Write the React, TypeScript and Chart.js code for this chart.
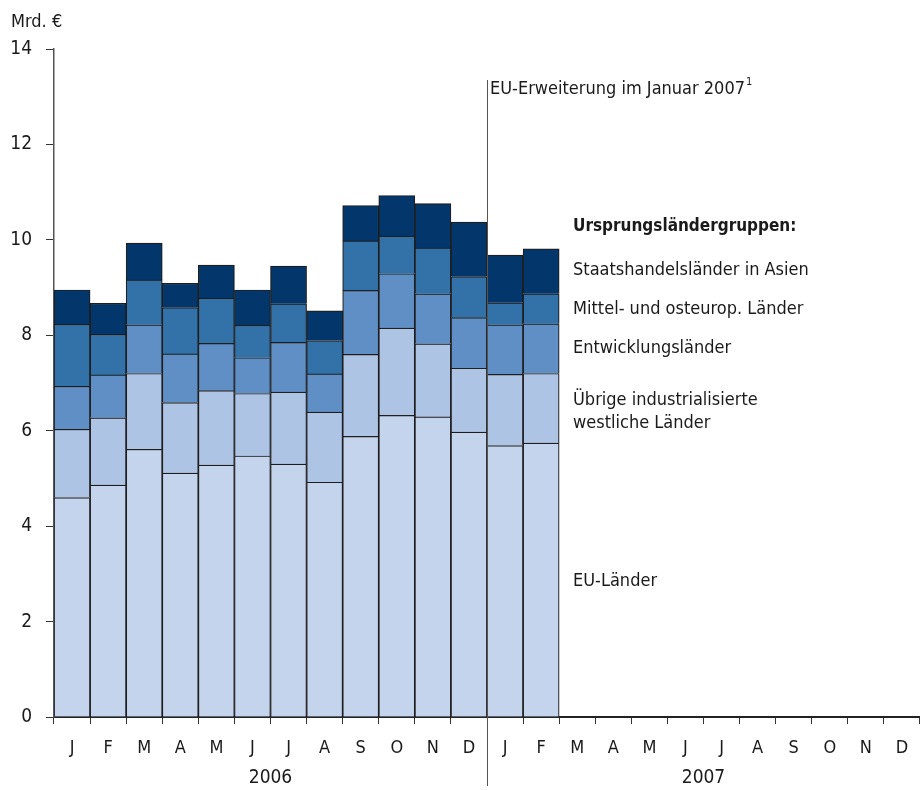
import React, { useEffect, useRef } from "react";
import { Chart, registerables } from "chart.js";

Chart.register(...registerables);

const months = ["J", "F", "M", "A", "M", "J", "J", "A", "S", "O", "N", "D", "J", "F", "M", "A", "M", "J", "J", "A", "S", "O", "N", "D"];
const years = ["2006", "2007"];

const euLaender = [4.6, 4.86, 5.61, 5.11, 5.28, 5.47, 5.3, 4.92, 5.88, 6.32, 6.29, 5.97, 5.69, 5.74];
const uebrigeWestliche = [1.43, 1.41, 1.59, 1.48, 1.56, 1.31, 1.51, 1.47, 1.72, 1.83, 1.53, 1.34, 1.49, 1.46];
const entwicklungslaender = [0.9, 0.9, 1.02, 1.02, 0.99, 0.75, 1.04, 0.8, 1.34, 1.14, 1.05, 1.06, 1.04, 1.04];
const mittelOsteuropa = [1.3, 0.85, 0.94, 0.97, 0.95, 0.68, 0.81, 0.7, 1.04, 0.79, 0.96, 0.86, 0.46, 0.63];
const staatshandelAsien = [0.72, 0.65, 0.77, 0.51, 0.69, 0.74, 0.79, 0.62, 0.74, 0.85, 0.93, 1.14, 1.0, 0.94];

const FONT = "'Liberation Sans Narrow', 'DejaVu Sans Condensed', 'Liberation Sans', sans-serif";
const TEXT = "#1a1a1a";

const overlay = {
  id: "overlay",
  afterDraw(chart: any) {
    const ctx = chart.ctx;
    const x = chart.scales.x;
    ctx.save();
    const sepX = (x.getPixelForValue(11) + x.getPixelForValue(12)) / 2;
    ctx.strokeStyle = "#555";
    ctx.lineWidth = 1;
    ctx.beginPath();
    ctx.moveTo(Math.round(sepX) + 0.5, 80);
    ctx.lineTo(Math.round(sepX) + 0.5, 786);
    ctx.stroke();

    ctx.fillStyle = TEXT;
    ctx.textBaseline = "middle";
    ctx.font = `18px ${FONT}`;
    ctx.textAlign = "left";
    ctx.fillText("Mrd. €", 11, 22);

    ctx.textAlign = "center";
    ctx.font = `19px ${FONT}`;
    const y2006 = (x.getPixelForValue(0) + x.getPixelForValue(11)) / 2;
    const y2007 = (x.getPixelForValue(12) + x.getPixelForValue(23)) / 2;
    ctx.fillText(years[0], y2006, 778);
    ctx.fillText(years[1], y2007, 778);

    ctx.textAlign = "left";
    ctx.font = `18px ${FONT}`;
    const t = "EU-Erweiterung im Januar 2007";
    ctx.fillText(t, sepX + 3, 89);
    const w = ctx.measureText(t).width;
    ctx.font = `11px ${FONT}`;
    ctx.fillText("1", sepX + 4 + w, 82);

    const lx = 573;
    ctx.font = `bold 17px ${FONT}`;
    ctx.fillText("Ursprungsländergruppen:", lx, 227);
    ctx.font = `18px ${FONT}`;
    ctx.fillText("Staatshandelsländer in Asien", lx, 270);
    ctx.fillText("Mittel- und osteurop. Länder", lx, 309);
    ctx.fillText("Entwicklungsländer", lx, 348);
    ctx.fillText("Übrige industrialisierte", lx, 400);
    ctx.fillText("westliche Länder", lx, 423);
    ctx.fillText("EU-Länder", lx, 581);
    ctx.restore();
  },
};

export default function App() {
  const ref = useRef<HTMLCanvasElement>(null);
  useEffect(() => {
    if (!ref.current) return;
    const mk = (label: string, data: number[], color: string) => ({
      label,
      data,
      backgroundColor: color,
      borderColor: "#1e1e1e",
      borderWidth: 1.2,
      barPercentage: 1,
      categoryPercentage: 1,
    });
    const chart = new Chart(ref.current, {
      type: "bar",
      data: {
        labels: months,
        datasets: [
          mk("EU-Länder", euLaender, "#c5d4ed"),
          mk("Übrige industrialisierte westliche Länder", uebrigeWestliche, "#aec4e4"),
          mk("Entwicklungsländer", entwicklungslaender, "#5f8fc4"),
          mk("Mittel- und osteurop. Länder", mittelOsteuropa, "#3372a8"),
          mk("Staatshandelsländer in Asien", staatshandelAsien, "#03376b"),
        ],
      },
      options: {
        animation: false,
        responsive: false,
        maintainAspectRatio: false,
        layout: { padding: { top: 49, right: 0, left: 0, bottom: 0 } },
        plugins: { legend: { display: false }, tooltip: { enabled: false } },
        scales: {
          x: {
            stacked: true,
            grid: { display: true, drawOnChartArea: false, offset: true, tickLength: 7, color: "#333", lineWidth: 1 },
            border: { display: true, color: "#222", width: 2 },
            ticks: { color: TEXT, font: { family: FONT, size: 18 }, padding: 14, maxRotation: 0, autoSkip: false },
            afterFit: (s: any) => { s.height = 73; s.paddingRight = 0; s.paddingLeft = 0; },
          },
          y: {
            stacked: true,
            min: 0,
            max: 14,
            ticks: { stepSize: 2, color: TEXT, font: { family: FONT, size: 19 }, padding: 14 },
            grid: { display: true, drawOnChartArea: false, tickLength: 8, color: "#333", lineWidth: 1 },
            border: { display: true, color: "#555", width: 1.5 },
            afterFit: (s: any) => { s.width = 54; },
          },
        },
      },
      plugins: [overlay],
    });
    return () => chart.destroy();
  }, []);
  return (
    <div style={{ position: "fixed", left: 0, top: 0, width: 920, height: 790, background: "#fff" }}>
      <canvas ref={ref} width={920} height={790} style={{ width: 920, height: 790 }} />
    </div>
  );
}
